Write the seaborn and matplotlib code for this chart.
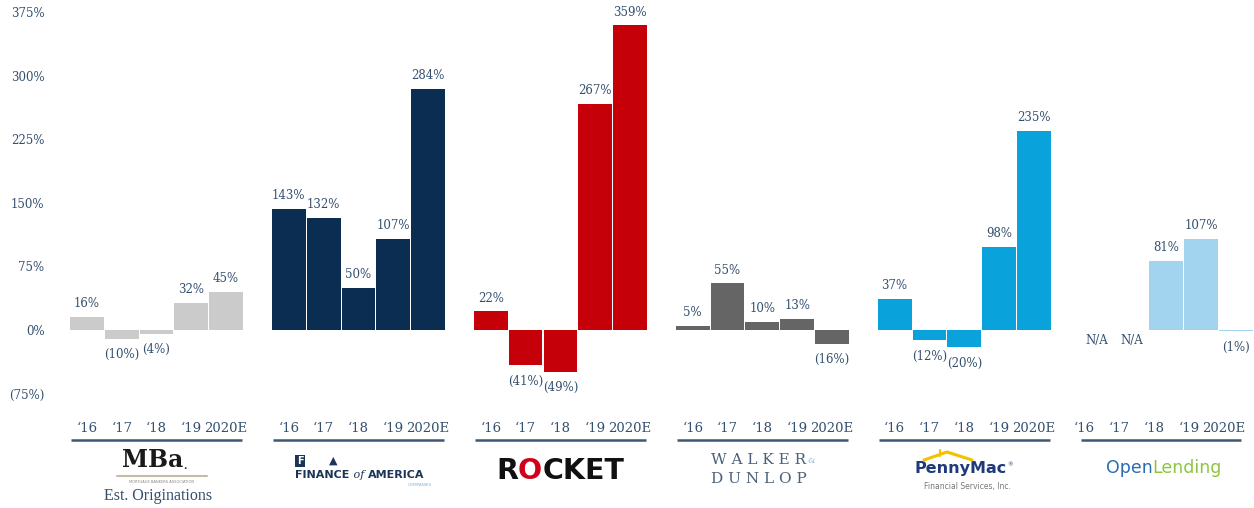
import numpy as np
import pandas as pd
import matplotlib
matplotlib.use("Agg")
import matplotlib.pyplot as plt
import seaborn as sns
from matplotlib.lines import Line2D
from matplotlib.transforms import ScaledTranslation

# ---------------- data ----------------
companies = ["MBA", "Finance of America", "Rocket", "Walker & Dunlop", "PennyMac", "Open Lending"]
years = ["\u201816", "\u201817", "\u201818", "\u201819", "2020E"]
mba = [16, -10, -4, 32, 45]
foa = [143, 132, 50, 107, 284]
rocket = [22, -41, -49, 267, 359]
walker = [5, 55, 10, 13, -16]
pennymac = [37, -12, -20, 98, 235]
openlending = [np.nan, np.nan, 81, 107, -1]
colors = ["#cbcbcb", "#0c2d52", "#c60009", "#656565", "#0aa2da", "#a2d4f0"]
yticks = [-75, 0, 75, 150, 225, 300, 375]

series = [mba, foa, rocket, walker, pennymac, openlending]
GROUP_STEP = 5.8

rows = []
for g, (comp, vals) in enumerate(zip(companies, series)):
    for i, (yr, v) in enumerate(zip(years, vals)):
        rows.append({"company": comp, "year": yr, "pos": round(g * GROUP_STEP + i, 3), "value": v})
df = pd.DataFrame(rows)

TXT = "#34506e"
SERIF = "DejaVu Serif"

sns.set_theme(style="white")
plt.rcParams["font.family"] = [SERIF]

fig = plt.figure(figsize=(12.54, 5.08), dpi=100)
ax = fig.add_axes([50 / 1254, (508 - 415) / 508, 1 - 50 / 1254, 415 / 508])

sns.barplot(data=df.dropna(), x="pos", y="value", hue="company", hue_order=companies,
            palette=colors, native_scale=True, dodge=False, width=0.97,
            saturation=1, errorbar=None, legend=False, ax=ax, linewidth=0)

ax.set_ylim(-100, 389)
ax.set_xlim(-1.06, 33.52)
for s in ax.spines.values():
    s.set_visible(False)

ax.set_yticks(yticks)
ax.set_yticklabels([f"{t}%" if t >= 0 else f"({-t}%)" for t in yticks],
                   fontsize=8.5, color=TXT, family=SERIF)
ax.set_xticks(df["pos"].tolist())
ax.set_xticklabels(df["year"].tolist(), fontsize=9.5, color=TXT, family=SERIF)
ax.tick_params(axis="both", length=0)
ax.tick_params(axis="x", pad=5)
ax.tick_params(axis="y", pad=4)
ax.set_xlabel("")
ax.set_ylabel("")
# last group's year labels sit a little left of their bars in the reference
for lab in ax.get_xticklabels()[-5:]:
    lab.set_transform(lab.get_transform() + ScaledTranslation(-12 / 100, 0, fig.dpi_scale_trans))

# value labels
for idx, r in df.iterrows():
    v = r["value"]
    if pd.isna(v):
        ax.annotate("N/A", (r["pos"], 0), xytext=(0, -3), textcoords="offset points",
                    ha="center", va="top", fontsize=8.5, color=TXT, family=SERIF)
    elif v >= 0:
        ax.annotate(f"{int(v)}%", (r["pos"], v), xytext=(0, 5), textcoords="offset points",
                    ha="center", va="bottom", fontsize=8.5, color=TXT, family=SERIF)
    else:
        ax.annotate(f"({int(-v)}%)", (r["pos"], v), xytext=(0, -7), textcoords="offset points",
                    ha="center", va="top", fontsize=8.5, color=TXT, family=SERIF)


def ay(py):
    return (415 - py) / 415


tr = ax.get_xaxis_transform()
centers = []
for g in range(len(companies)):
    x0 = g * GROUP_STEP - 0.5
    x1 = g * GROUP_STEP + 4.5
    if g == len(companies) - 1:
        x1 -= 0.3
    centers.append(g * GROUP_STEP + 2)
    ax.plot([x0 + 0.05, x1 - 0.05], [ay(440), ay(440)], transform=tr, color="#3d5873",
            lw=1.8, clip_on=False, solid_capstyle="butt")

c = centers
# ---- MBA ----
t_mba = ax.text(c[0] - 0.1, ay(460), "MBa", transform=tr, ha="center", va="center", fontsize=17,
                fontweight="bold", family=SERIF, color="#1a1a1a")
ax.annotate(".", xy=(1, 0.12), xycoords=t_mba, ha="left", va="baseline", fontsize=7,
            fontweight="bold", family=SERIF, color="#1a1a1a")
ax.plot([c[0] - 1.15, c[0] + 1.45], [ay(476), ay(476)], transform=tr, color="#c9b9a3",
        lw=1.5, clip_on=False)
ax.text(c[0] + 0.15, ay(482), "MORTGAGE BANKERS ASSOCIATION", transform=tr, ha="center",
        va="center", fontsize=2.6, family="DejaVu Sans", color="#888888")
ax.text(c[0] + 0.05, ay(496), "Est. Originations", transform=tr, ha="center", va="center",
        fontsize=11.5, family="Liberation Serif", color=TXT)

# ---- Finance of America ----
t_fin = ax.text(c[1] - 0.25, ay(475), "FINANCE", transform=tr, ha="right", va="center",
                fontsize=8, fontweight="bold", family="DejaVu Sans", color="#1c3557")
t_of = ax.annotate(" of ", xy=(1, 0.5), xycoords=t_fin, ha="left", va="center", fontsize=8,
                   style="italic", family=SERIF, color="#1c3557")
ax.annotate("AMERICA", xy=(1, 0.5), xycoords=t_of, ha="left", va="center", fontsize=8,
            fontweight="bold", family="DejaVu Sans", color="#1c3557")
ax.text(c[1] + 1.75, ay(485), "COMPANIES", transform=tr, ha="center", va="center",
        fontsize=3, family="DejaVu Sans", color="#7fb3d9")
ax.text(c[1] - 1.68, ay(461), "F", transform=tr, ha="center", va="center", fontsize=7,
        fontweight="bold", family="DejaVu Sans", color="white",
        bbox=dict(boxstyle="square,pad=0.15", fc="#1c3557", ec="none"))
ax.text(c[1] - 0.72, ay(461), "\u25B2", transform=tr, ha="center", va="center", fontsize=8,
        family="DejaVu Sans", color="#1c3557")

# ---- Rocket ----
t_r = ax.text(c[2] - 1.85, ay(471), "R", transform=tr, ha="left", va="center", fontsize=20.5,
              fontweight="bold", family="DejaVu Sans", color="#111111")
t_o = ax.annotate("O", xy=(1, 0.5), xycoords=t_r, ha="left", va="center", fontsize=20.5,
                  fontweight="bold", family="DejaVu Sans", color="#d0021b")
ax.annotate("CKET", xy=(1, 0.5), xycoords=t_o, ha="left", va="center", fontsize=20.5,
            fontweight="bold", family="DejaVu Sans", color="#111111")

# ---- Walker & Dunlop ----
ax.text(c[3] - 0.1, ay(460), "W A L K E R", transform=tr, ha="center", va="center", fontsize=11,
        family=SERIF, color="#4a6079")
ax.text(c[3] - 0.1, ay(479), "D U N L O P", transform=tr, ha="center", va="center", fontsize=11,
        family=SERIF, color="#4a6079")
ax.text(c[3] + 1.4, ay(461), "&", transform=tr, ha="center", va="center", fontsize=6,
        family=SERIF, color="#8ab8dc")

# ---- PennyMac ----
t_pm = ax.text(c[4] - 0.1, ay(468), "PennyMac", transform=tr, ha="center", va="center",
               fontsize=11.5, fontweight="bold", family="DejaVu Sans", color="#1f3a7a")
ax.annotate("\u00ae", xy=(1, 0.9), xycoords=t_pm, ha="left", va="top", fontsize=4,
            family="DejaVu Sans", color="#1f3a7a")
roof_x = [924, 947, 972]
roof_y = [460, 452, 460]
fig.add_artist(Line2D([x / 1254 for x in roof_x], [1 - y / 508 for y in roof_y],
                      transform=fig.transFigure, color="#f2c200", lw=2.2))
fig.add_artist(Line2D([940 / 1254, 940 / 1254], [1 - 456 / 508, 1 - 450 / 508],
                      transform=fig.transFigure, color="#f2c200", lw=1.5))
ax.text(c[4] + 0.1, ay(487), "Financial Services, Inc.", transform=tr, ha="center",
        va="center", fontsize=5.5, family="DejaVu Sans", color="#777777")

# ---- Open Lending ----
ax.text(c[5] - 0.4, ay(468), "Open", transform=tr, ha="right", va="center", fontsize=12.5,
        family="DejaVu Sans", color="#2b6cb0")
ax.text(c[5] - 0.4, ay(468), "Lending", transform=tr, ha="left", va="center", fontsize=12.5,
        family="DejaVu Sans", color="#8cc63f")

fig.savefig("out.png", dpi=100)
